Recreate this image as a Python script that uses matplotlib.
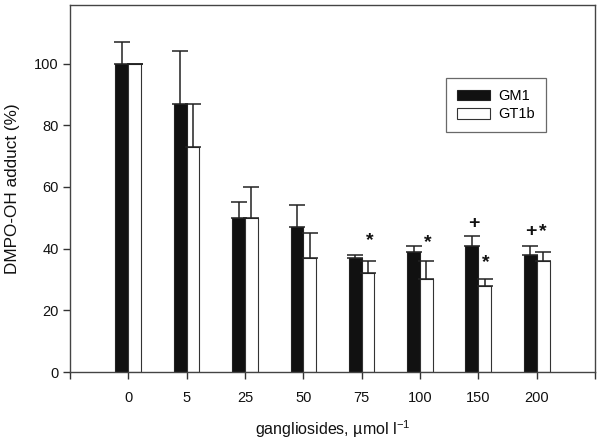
import matplotlib
matplotlib.use("Agg")
import matplotlib.pyplot as plt
import numpy as np

plt.rcParams['font.family'] = ['Liberation Sans', 'DejaVu Sans']
plt.rcParams['mathtext.fontset'] = 'custom'
plt.rcParams['mathtext.rm'] = 'Liberation Sans'
plt.rcParams['mathtext.it'] = 'Liberation Sans'
plt.rcParams['mathtext.default'] = 'regular'

categories = ["0", "5", "25", "50", "75", "100", "150", "200"]
gm1 = [100, 87, 50, 47, 37, 39, 41, 38]
gm1_err = [7, 17, 5, 7, 1, 2, 3, 3]
gt1b = [100, 73, 50, 37, 32, 30, 28, 36]
gt1b_err = [0, 14, 10, 8, 4, 6, 2, 3]

# significance marks: category index, offset from category, y, symbol
marks_cat = [4, 5, 6, 6, 7, 7]
marks_dx = [0.14, 0.13, -0.07, 0.13, -0.10, 0.11]
marks_y = [42.5, 42, 48, 35.5, 45.5, 45.5]
marks_sym = ["*", "*", "+", "*", "+", "*"]

fig = plt.figure(figsize=(6, 4.41), dpi=100)
ax = fig.add_axes([70 / 600, 69 / 441, 525 / 600, 367 / 441])

x = np.arange(len(categories))
w = 0.22
ax.bar(x - w / 2, gm1, w, color='#111111', edgecolor='#222222', linewidth=0.8, label='GM1')
ax.bar(x + w / 2, gt1b, w, color='white', edgecolor='#333333', linewidth=0.8, label='GT1b')
ax.errorbar(x - w / 2, gm1, yerr=[np.zeros(len(gm1)), gm1_err], fmt='none',
            ecolor='#222222', elinewidth=1.1, capsize=5.5, capthick=1.1)
ax.errorbar(x + w / 2, gt1b, yerr=[np.zeros(len(gt1b)), gt1b_err], fmt='none',
            ecolor='#222222', elinewidth=1.1, capsize=5.5, capthick=1.1)

for c, dx, yy, s in zip(marks_cat, marks_dx, marks_y, marks_sym):
    ax.text(c + dx, yy, s, ha='center', va='center', fontsize=14,
            fontweight='bold', color='#111111')

ax.set_xlim(-1, 8)
ax.set_ylim(0, 119)
ax.set_xticks(np.arange(-1, 9))
ax.set_xticklabels([""] + categories + [""])
ax.set_yticks(np.arange(0, 101, 20))
ax.tick_params(direction='out', length=5, width=1, colors='#333333', labelsize=10.5,
               labelcolor='#111111')
ax.tick_params(axis='x', pad=8.5)
ax.tick_params(axis='y', pad=3)
for sp in ax.spines.values():
    sp.set_color('#444444')
    sp.set_linewidth(1)

ax.set_ylabel('DMPO-OH adduct (%)', fontsize=12.3, color='#111111', labelpad=10)
ax.set_xlabel('gangliosides, \u00b5mol l$^{-1}$', fontsize=11.5, color='#111111', labelpad=10)

leg = ax.legend(loc='upper left', bbox_to_anchor=(0.716, 0.801), fontsize=10.5,
                frameon=True, fancybox=False, edgecolor='#444444',
                handlelength=2.3, handleheight=0.75, handletextpad=0.55,
                borderpad=0.75, labelspacing=0.3, borderaxespad=0)
leg.get_frame().set_linewidth(0.9)

fig.savefig('out.png', dpi=100)
